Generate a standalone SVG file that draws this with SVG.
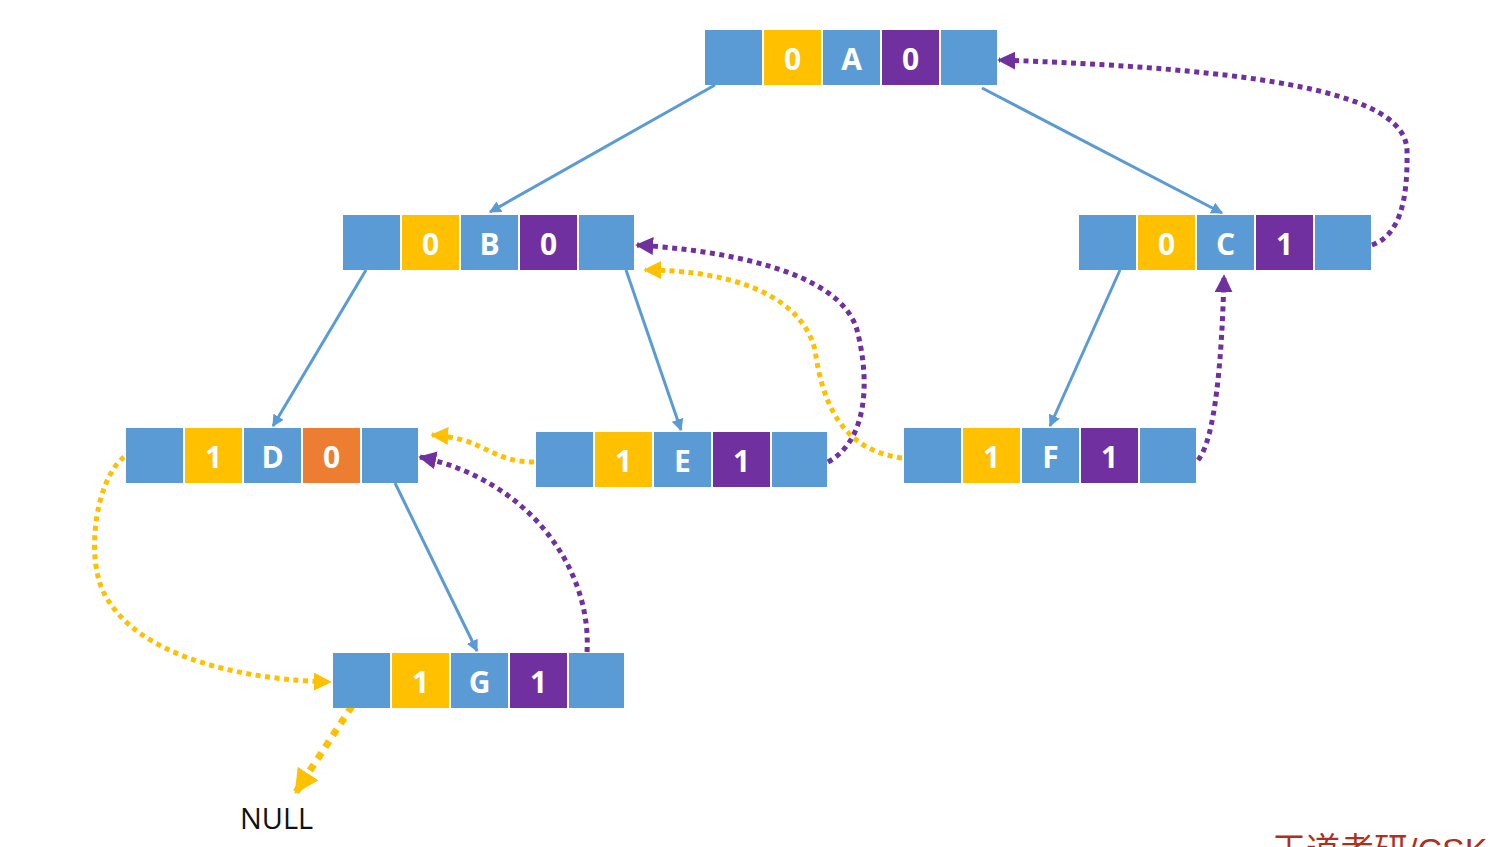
<svg xmlns="http://www.w3.org/2000/svg" width="1493" height="847" viewBox="0 0 1493 847">
<style>
.b{fill:#5B9BD5}.y{fill:#FFC000}.p{fill:#7030A0}.o{fill:#ED7D31}
.t{font-family:"Open Sans","Liberation Sans",sans-serif;font-weight:bold;font-size:30px;fill:#fff;text-anchor:middle}
.e{stroke:#5B9BD5;stroke-width:3;fill:none;marker-end:url(#ab)}
.dp{stroke:#7030A0;stroke-width:5;fill:none;stroke-dasharray:5 4.5;marker-end:url(#ap)}
.dy{stroke:#FFC000;stroke-width:5;fill:none;stroke-dasharray:5 4.5;marker-end:url(#ay)}
</style>
<defs>
<marker id="ab" viewBox="0 0 10 10" refX="9" refY="5" markerWidth="4" markerHeight="4" orient="auto" markerUnits="strokeWidth"><path d="M0,0L10,5L0,10z" fill="#5B9BD5"/></marker>
<marker id="ap" viewBox="0 0 10 10" refX="9" refY="5" markerWidth="3.6" markerHeight="3.6" orient="auto" markerUnits="strokeWidth"><path d="M0,0L10,5L0,10z" fill="#7030A0"/></marker>
<marker id="ay" viewBox="0 0 10 10" refX="9" refY="5" markerWidth="3.6" markerHeight="3.6" orient="auto" markerUnits="strokeWidth"><path d="M0,0L10,5L0,10z" fill="#FFC000"/></marker>
<marker id="ay2" viewBox="0 0 10 10" refX="9" refY="5" markerWidth="3.5" markerHeight="3.5" orient="auto" markerUnits="strokeWidth"><path d="M0,0L10,5L0,10z" fill="#FFC000"/></marker>
</defs>
<rect width="1493" height="847" fill="#fff"/>
<g id="connectors">
<path class="e" d="M715,85L490,212"/>
<path class="e" d="M982,88L1222,213"/>
<path class="e" d="M366,270L273,426"/>
<path class="e" d="M626,270L681,430"/>
<path class="e" d="M1120,270L1050,426"/>
<path class="e" d="M395,483L477,651"/>
<path class="dp" d="M1372,245C1400,235 1408,200 1407,150C1405,100 1300,70 999,60"/>
<path class="dy" d="M534,462C490,462 485,438 432,435"/>
<path class="dp" d="M828,462C868,440 870,380 857,330C840,270 720,250 637,245"/>
<path class="dy" d="M902,458C840,450 822,400 815,350C800,290 720,270 645,270"/>
<path class="dp" d="M1198,460C1215,440 1222,360 1224,276"/>
<path class="dp" d="M587,652C592,570 530,480 420,457"/>
<path class="dy" d="M124,457C95,480 85,560 105,595C140,660 250,680 330,682"/>
<path d="M352,706L296,792" stroke="#FFC000" stroke-width="7" fill="none" stroke-dasharray="7 7" marker-end="url(#ay2)"/>
</g>
<g id="nodeA" transform="translate(705,30)">
<rect class="b" x="0" y="0" width="57" height="55"/><rect class="y" x="59" y="0" width="57" height="55"/><rect class="b" x="118" y="0" width="57" height="55"/><rect class="p" x="177" y="0" width="57" height="55"/><rect class="b" x="236" y="0" width="56" height="55"/>
<text class="t" x="87.5" y="40">0</text><text class="t" x="146.5" y="40">A</text><text class="t" x="205.5" y="40">0</text>
</g>
<g id="nodeB" transform="translate(343,215)">
<rect class="b" x="0" y="0" width="57" height="55"/><rect class="y" x="59" y="0" width="57" height="55"/><rect class="b" x="118" y="0" width="57" height="55"/><rect class="p" x="177" y="0" width="57" height="55"/><rect class="b" x="236" y="0" width="55" height="55"/>
<text class="t" x="87.5" y="40">0</text><text class="t" x="146.5" y="40">B</text><text class="t" x="205.5" y="40">0</text>
</g>
<g id="nodeC" transform="translate(1079,215)">
<rect class="b" x="0" y="0" width="57" height="55"/><rect class="y" x="59" y="0" width="57" height="55"/><rect class="b" x="118" y="0" width="57" height="55"/><rect class="p" x="177" y="0" width="57" height="55"/><rect class="b" x="236" y="0" width="56" height="55"/>
<text class="t" x="87.5" y="40">0</text><text class="t" x="146.5" y="40">C</text><text class="t" x="205.5" y="40">1</text>
</g>
<g id="nodeD" transform="translate(126,428)">
<rect class="b" x="0" y="0" width="57" height="55"/><rect class="y" x="59" y="0" width="57" height="55"/><rect class="b" x="118" y="0" width="57" height="55"/><rect class="o" x="177" y="0" width="57" height="55"/><rect class="b" x="236" y="0" width="56" height="55"/>
<text class="t" x="87.5" y="40">1</text><text class="t" x="146.5" y="40">D</text><text class="t" x="205.5" y="40">0</text>
</g>
<g id="nodeE" transform="translate(536,432)">
<rect class="b" x="0" y="0" width="57" height="55"/><rect class="y" x="59" y="0" width="57" height="55"/><rect class="b" x="118" y="0" width="57" height="55"/><rect class="p" x="177" y="0" width="57" height="55"/><rect class="b" x="236" y="0" width="55" height="55"/>
<text class="t" x="87.5" y="40">1</text><text class="t" x="146.5" y="40">E</text><text class="t" x="205.5" y="40">1</text>
</g>
<g id="nodeF" transform="translate(904,428)">
<rect class="b" x="0" y="0" width="57" height="55"/><rect class="y" x="59" y="0" width="57" height="55"/><rect class="b" x="118" y="0" width="57" height="55"/><rect class="p" x="177" y="0" width="57" height="55"/><rect class="b" x="236" y="0" width="56" height="55"/>
<text class="t" x="87.5" y="40">1</text><text class="t" x="146.5" y="40">F</text><text class="t" x="205.5" y="40">1</text>
</g>
<g id="nodeG" transform="translate(333,653)">
<rect class="b" x="0" y="0" width="57" height="55"/><rect class="y" x="59" y="0" width="57" height="55"/><rect class="b" x="118" y="0" width="57" height="55"/><rect class="p" x="177" y="0" width="57" height="55"/><rect class="b" x="236" y="0" width="55" height="55"/>
<text class="t" x="87.5" y="40">1</text><text class="t" x="146.5" y="40">G</text><text class="t" x="205.5" y="40">1</text>
</g>
<g id="null">
<text x="240" y="829" font-family="'Open Sans','Liberation Sans',sans-serif" font-size="29" fill="#111">NULL</text>
</g>
<text x="1272" y="862" font-family="'Liberation Sans','Noto Sans CJK SC',sans-serif" font-size="34" fill="#B03020">王道考研/CSKA</text>
</svg>
